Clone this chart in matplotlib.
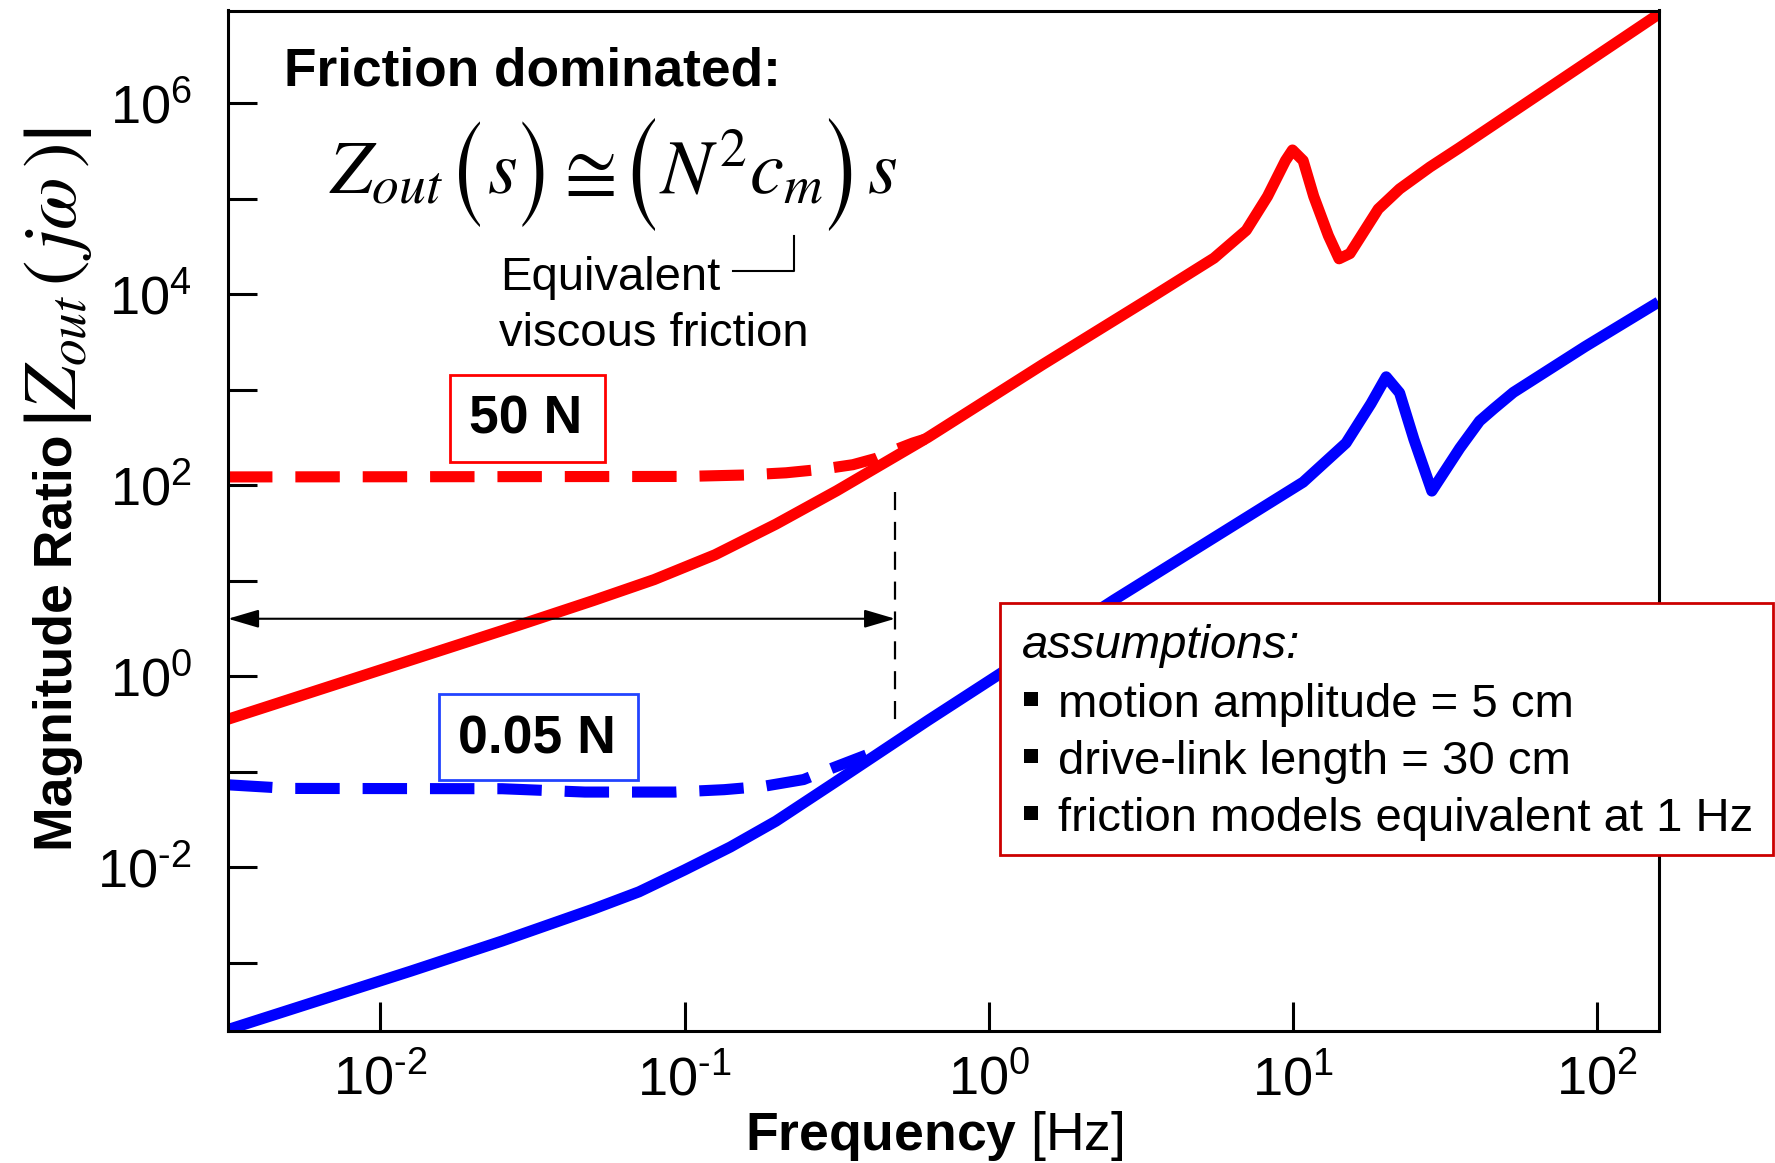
import math
import matplotlib
matplotlib.use('Agg')
import matplotlib.pyplot as plt
from matplotlib.patches import Rectangle
from matplotlib.lines import Line2D
from matplotlib.ticker import FixedLocator, FuncFormatter, NullLocator

plt.rcParams.update({
    'font.family': ['Liberation Sans', 'DejaVu Sans'],
    'mathtext.fontset': 'custom',
    'mathtext.rm': 'Liberation Sans',
    'mathtext.it': 'Liberation Sans:italic',
    'mathtext.bf': 'Liberation Sans:bold',
    'axes.unicode_minus': False,
    'lines.scale_dashes': False,
})

# ---------------- data ----------------
red_freq = [0.003155, 0.02838, 0.0501, 0.0794, 0.1259, 0.1995, 0.3162, 0.4467, 0.631,
            1.503, 3.381, 5.495, 7.015, 8.241, 9.441, 9.954, 10.79, 11.69, 13.06,
            14.16, 15.38, 19.05, 22.39, 28.18, 35.16, 158.9]
red_mag = [0.353, 3.39, 6.17, 10.23, 18.62, 38.9, 87.1, 166.0, 316.2,
           1828, 9016, 23770, 46450, 105400, 249500, 322100, 249500, 105400, 40930,
           23390, 26550, 77620, 125900, 213800, 338800, 8511000]

red_dash_freq = [0.003155, 0.1, 0.1585, 0.2153, 0.2818, 0.3573, 0.4266, 0.5, 0.5623, 0.6166]
red_dash_mag = [121.6, 123.0, 127.4, 134.3, 146.2, 163.3, 190.5, 238.2, 275.4, 302.0]

blue_freq = [0.003155, 0.01259, 0.02512, 0.0501, 0.0708, 0.1, 0.1413, 0.1995, 0.3162,
             0.631, 2.576, 10.79, 14.93, 18.03, 20.23, 22.39, 24.95, 28.58, 35.32,
             41.02, 45.71, 52.97, 91.2, 158.9]
blue_mag = [0.0001986, 0.000813, 0.00168, 0.00363, 0.0055, 0.00933, 0.0162, 0.0302, 0.0794,
            0.343, 6.252, 107.2, 275.4, 711.2, 1358, 922.6, 301.3, 86.5, 243.2,
            467.7, 631.0, 933.3, 2818, 8241]

blue_dash_freq = [0.003155, 0.005012, 0.02512, 0.04699, 0.09247, 0.1349, 0.1816, 0.246, 0.2911, 0.3954]
blue_dash_mag = [0.07261, 0.06653, 0.06607, 0.06095, 0.06095, 0.06457, 0.06998, 0.08241, 0.1023, 0.1489]

x_limits = (0.003155, 158.9)
y_limits = (1.928e-4, 9.31e6)
x_ticks = [1e-2, 1e-1, 1e0, 1e1, 1e2]
y_ticks = [1e-3, 1e-2, 1e-1, 1e0, 1e1, 1e2, 1e3, 1e4, 1e5, 1e6]

break_freq = 0.492        # arrow / vertical marker frequency
arrow_level = 3.98        # magnitude level of the double arrow
vline_top, vline_bottom = 85.5, 0.27

assumption_lines = ["motion amplitude = 5 cm",
                    "drive-link length = 30 cm",
                    "friction models equivalent at 1 Hz"]

W, H = 1775, 1163
fig = plt.figure(figsize=(W / 100, H / 100), dpi=100)


def FX(px):
    return px / W


def FY(py):
    return 1 - py / H


ax = fig.add_axes([FX(228), FY(1030.8), (1658.5 - 228) / W, (1030.8 - 10.5) / H])
ax.set_xscale('log')
ax.set_yscale('log')
ax.set_xlim(*x_limits)
ax.set_ylim(*y_limits)

RED, BLUE = '#ff0000', '#0000ff'
LW = 8
ax.plot(red_dash_freq, red_dash_mag, color=RED, lw=LW, dashes=(32, 16.5), solid_joinstyle='round')
ax.plot(blue_dash_freq, blue_dash_mag, color=BLUE, lw=LW, dashes=(32, 16.5))
ax.plot(red_freq, red_mag, color=RED, lw=LW, solid_joinstyle='round', solid_capstyle='butt')
ax.plot(blue_freq, blue_mag, color=BLUE, lw=LW, solid_joinstyle='round', solid_capstyle='butt')

# vertical dashed marker and double arrow
ax.plot([break_freq, break_freq], [vline_top, vline_bottom], color='black', lw=1.6, dashes=(13, 8.5))
ax.annotate('', xy=(x_limits[0], arrow_level), xytext=(break_freq, arrow_level),
            arrowprops=dict(arrowstyle='<|-|>,head_length=0.95,head_width=0.28',
                            mutation_scale=20, color='black', lw=1.5,
                            shrinkA=0, shrinkB=0))

# ticks
ax.xaxis.set_major_locator(FixedLocator(x_ticks))
ax.xaxis.set_minor_locator(NullLocator())
ax.yaxis.set_major_locator(FixedLocator(y_ticks))
ax.yaxis.set_minor_locator(NullLocator())


def exp_label(e):
    s = str(e).replace('-', '\u2010')
    return r'$\mathdefault{10^{%s}}$' % s


def xfmt(v, pos):
    return exp_label(int(round(math.log10(v))))


def yfmt(v, pos):
    e = int(round(math.log10(v)))
    return exp_label(e) if e % 2 == 0 else ''


ax.xaxis.set_major_formatter(FuncFormatter(xfmt))
ax.yaxis.set_major_formatter(FuncFormatter(yfmt))
ax.tick_params(axis='both', direction='in', length=21, width=2.2, labelsize=39)
ax.tick_params(axis='x', pad=17)
ax.tick_params(axis='y', pad=26)
for s in ax.spines.values():
    s.set_linewidth(2.2)

# axis labels
ax.set_xlabel(r'$\mathbf{Frequency}$ [Hz]', fontsize=38.5)
ax.xaxis.set_label_coords((934 - 228) / 1430.5, (1030.8 - 1109) / 1020.3)

fig.text(FX(58), FY(643), 'Magnitude Ratio', rotation=90, fontsize=38.5,
         fontweight='bold', ha='center', va='center')
fig.text(FX(58), FY(278), r'$\left|Z_{out}\,\left(\,j\omega\,\right)\right|$', rotation=90,
         fontsize=55, ha='center', va='center', math_fontfamily='stix')

# annotations
fig.text(FX(284), FY(85), 'Friction dominated:', fontsize=38.3, fontweight='bold',
         ha='left', va='baseline')

EQ = dict(fontsize=55, ha='left', va='baseline', math_fontfamily='stix')
BASE = 193.5
fig.text(FX(329), FY(BASE), r'$Z_{out}$', **EQ)
fig.text(FX(487), FY(BASE), r'$s$', **EQ)
fig.text(FX(553), FY(BASE), r'$\cong$', **EQ)
fig.text(FX(659), FY(BASE), r'$N^{2}c_{m}$', **EQ)
fig.text(FX(867), FY(BASE), r'$s$', **EQ)
PAR = dict(ha='center', va='center', family='STIXSizeOneSym')
fig.text(FX(467), FY(174), '(', fontsize=62, **PAR)
fig.text(FX(535), FY(174), ')', fontsize=62, **PAR)
fig.text(FX(640.5), FY(174), '(', fontsize=66, **PAR)
fig.text(FX(841), FY(174), ')', fontsize=66, **PAR)

fig.text(FX(500), FY(289.5), 'Equivalent', fontsize=34, ha='left', va='baseline')
fig.text(FX(499), FY(346.5), 'viscous friction', fontsize=34, ha='left', va='baseline')
fig.add_artist(Line2D([FX(733), FX(794), FX(794)], [FY(271), FY(271), FY(236)],
                      color='black', lw=1.5, transform=fig.transFigure))

# force boxes
fig.add_artist(Rectangle((FX(449.5), FY(461.5)), (604.7 - 449.5) / W, (461.5 - 375) / H,
                         transform=fig.transFigure, facecolor='white', edgecolor=RED, lw=2))
fig.text(FX(526), FY(419), '50 N', fontsize=38.5, fontweight='bold', ha='center', va='center')
fig.add_artist(Rectangle((FX(439), FY(780)), (638 - 439) / W, (780 - 694) / H,
                         transform=fig.transFigure, facecolor='white', edgecolor='#2244ff', lw=2))
fig.text(FX(537), FY(739), '0.05 N', fontsize=38.5, fontweight='bold', ha='center', va='center')

# assumptions box
fig.add_artist(Rectangle((FX(1000), FY(855)), (1773 - 1000) / W, (855 - 603) / H,
                         transform=fig.transFigure, facecolor='white', edgecolor='#cc0000', lw=2))
fig.text(FX(1022), FY(658), 'assumptions:', fontsize=34, style='italic', ha='left', va='baseline')
for i, line in enumerate(assumption_lines):
    yb = 717 + 57 * i
    fig.add_artist(Rectangle((FX(1024), FY(yb - 11)), 14 / W, 14 / H, transform=fig.transFigure,
                             facecolor='black', edgecolor='none'))
    fig.text(FX(1058), FY(yb), line, fontsize=34, ha='left', va='baseline')

fig.savefig('out.png', dpi=100)
